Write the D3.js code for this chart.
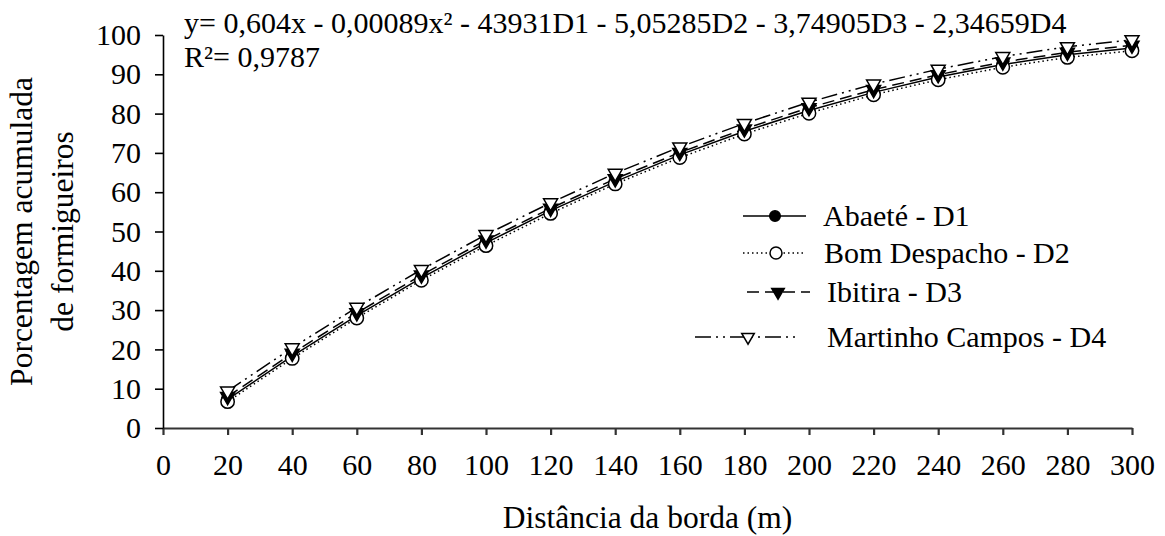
<!DOCTYPE html>
<html>
<head>
<meta charset="utf-8">
<script src="https://cdn.jsdelivr.net/npm/d3@7"></script>
<style>
	body { margin: 0; background: #ffffff; }
</style>
</head>
<body>
<div id="container"></div>
<script>
/* CONSTANTS AND GLOBALS */
	const width = 1165,
	height = 536,
	margin = { top: 35, bottom: 108, left: 163, right: 33 }
	const FONT = "Liberation Serif"

/* DATA | */
	const distances = [20, 40, 60, 80, 100, 120, 140, 160, 180, 200, 220, 240, 260, 280, 300]
	const abaete = [7.3, 18.3, 28.6, 38.2, 47.1, 55.3, 62.7, 69.5, 75.5, 80.8, 85.4, 89.3, 92.5, 95.0, 96.7]
	const bomDespacho = [6.7, 17.7, 28.0, 37.6, 46.4, 54.6, 62.1, 68.8, 74.8, 80.1, 84.8, 88.6, 91.8, 94.3, 96.0]
	const ibitira = [8.0, 19.0, 29.3, 38.9, 47.8, 55.9, 63.4, 70.1, 76.1, 81.5, 86.1, 89.9, 93.1, 95.6, 97.4]
	const martinho = [9.4, 20.4, 30.7, 40.3, 49.2, 57.3, 64.8, 71.5, 77.5, 82.9, 87.5, 91.3, 94.5, 97.0, 98.8]
	const seriesNames = ["Abaeté - D1", "Bom Despacho - D2", "Ibitira - D3", "Martinho Campos - D4"]
	const xTicks = d3.range(0, 301, 20)
	const yTicks = d3.range(0, 101, 10)
	const equation = "y= 0,604x - 0,00089x² - 43931D1 - 5,05285D2 - 3,74905D3 - 2,34659D4"
	const rSquared = "R²= 0,9787"

/* line + marker look of each series */
	const styles = [
		{ dash: null, symbol: d3.symbolCircle, size: 110, fill: "#000000", flip: false },
		{ dash: "1.5,3", symbol: d3.symbolCircle, size: 140, fill: "#ffffff", flip: false },
		{ dash: "12,6", symbol: d3.symbolTriangle, size: 85, fill: "#000000", flip: true },
		{ dash: "16,5,2,5,2,5", symbol: d3.symbolTriangle, size: 85, fill: "#ffffff", flip: true }
	]

	const series = [abaete, bomDespacho, ibitira, martinho].map((vals, i) => ({
		name: seriesNames[i],
		style: styles[i],
		points: distances.map((x, j) => ({ x: x, y: vals[j] }))
	}))

/* SCALES */
	const xScale = d3.scaleLinear()
		.domain([0, 300])
		.range([margin.left, width - margin.right])

	const yScale = d3.scaleLinear()
		.domain([0, 100])
		.range([height - margin.bottom, margin.top])

/* CREATE SVG ELEMENT */
	const svg = d3.select("#container")
		.append("svg")
		.attr("width", width)
		.attr("height", height)
		.attr("font-family", FONT)

/* helper so every label gets the serif face */
	const addText = (sel, size) => sel
		.style("font-family", FONT)
		.style("font-size", size + "px")
		.attr("fill", "#000000")

/* AXES */
	const xAxis = d3.axisBottom(xScale)
		.tickValues(xTicks)
		.tickSize(7)
		.tickSizeOuter(0)
		.tickPadding(18.5)

	const xAxisGroup = svg.append("g")
		.attr("transform", `translate(0, ${height - margin.bottom})`)
		.attr("font-family", FONT)
		.call(xAxis)
	xAxisGroup.selectAll("path, line")
		.attr("stroke", "#333333")
		.attr("stroke-width", 2.2)
	addText(xAxisGroup.selectAll("text"), 30)

	const yAxis = d3.axisLeft(yScale)
		.tickValues(yTicks)
		.tickSize(8)
		.tickSizeOuter(0)
		.tickPadding(14)

	const yAxisGroup = svg.append("g")
		.attr("transform", `translate(${margin.left}, 0)`)
		.attr("font-family", FONT)
		.call(yAxis)
	yAxisGroup.selectAll("path, line")
		.attr("stroke", "#000000")
		.attr("stroke-width", 1.6)
	addText(yAxisGroup.selectAll("text"), 30)

	/* axis titles */
	addText(svg.append("text"), 31.5)
		.attr("x", (xScale(0) + xScale(300)) / 2)
		.attr("y", 528)
		.attr("text-anchor", "middle")
		.text("Distância da borda (m)")

	const yTitle = addText(svg.append("text"), 31.5)
		.attr("transform", `translate(0, ${(yScale(0) + yScale(100)) / 2}) rotate(-90)`)
		.attr("text-anchor", "middle")
	yTitle.append("tspan").attr("x", 0).attr("y", 32).text("Porcentagem acumulada")
	yTitle.append("tspan").attr("x", 0).attr("y", 73).text("de formigueiros")

/* LINES AND MARKERS */
	const lineGen = d3.line()
		.x(d => xScale(d.x))
		.y(d => yScale(d.y))

	const symbolPath = s => d3.symbol().type(s.symbol).size(s.size)()

	series.forEach(s => {
		svg.append("path")
			.attr("d", lineGen(s.points))
			.attr("fill", "none")
			.attr("stroke", "#000000")
			.attr("stroke-width", 1.5)
			.attr("stroke-dasharray", s.style.dash)
	})

	series.forEach(s => {
		svg.append("g")
			.selectAll("path")
			.data(s.points)
			.join("path")
			.attr("d", symbolPath(s.style))
			.attr("transform", d => `translate(${xScale(d.x)}, ${yScale(d.y)})${s.style.flip ? " rotate(180)" : ""}`)
			.attr("fill", s.style.fill)
			.attr("stroke", "#000000")
			.attr("stroke-width", 1.5)
	})

/* EQUATION */
	addText(svg.append("text"), 30)
		.attr("x", 184)
		.attr("y", 33)
		.text(equation)
	addText(svg.append("text"), 30)
		.attr("x", 184)
		.attr("y", 67)
		.text(rSquared)

/* LEGEND | each row: line span, marker spot, label start, row centre */
	const legendRows = [
		{ x0: 743, x1: 806, xm: 775, xt: 823, y: 216 },
		{ x0: 743, x1: 804, xm: 776, xt: 824, y: 253 },
		{ x0: 747, x1: 810, xm: 778, xt: 827, y: 292 },
		{ x0: 695, x1: 795, xm: 748, xt: 827, y: 337 }
	]

	const legend = svg.append("g").attr("class", "legend")
	series.forEach((s, i) => {
		const r = legendRows[i]
		legend.append("line")
			.attr("x1", r.x0).attr("x2", r.x1)
			.attr("y1", r.y).attr("y2", r.y)
			.attr("stroke", "#000000")
			.attr("stroke-width", 1.5)
			.attr("stroke-dasharray", s.style.dash)
		legend.append("path")
			.attr("d", d3.symbol().type(s.style.symbol).size(s.style.size * 0.8)())
			.attr("transform", `translate(${r.xm}, ${r.y})${s.style.flip ? " rotate(180)" : ""}`)
			.attr("fill", s.style.fill)
			.attr("stroke", "#000000")
			.attr("stroke-width", 1.5)
		addText(legend.append("text"), 30)
			.attr("x", r.xt)
			.attr("y", r.y + 10)
			.text(s.name)
	})
</script>
</body>
</html>
